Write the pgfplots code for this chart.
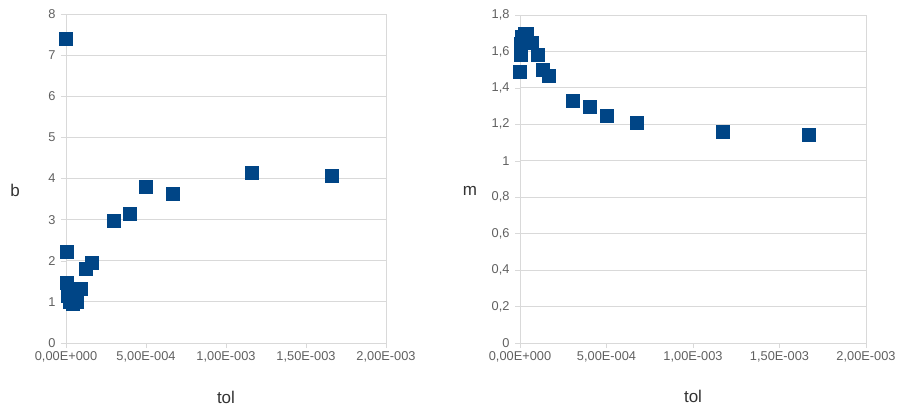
\documentclass[border=0pt]{standalone}
\usepackage{fontspec}
\setmainfont{Liberation Sans}
\usepackage{pgfplots}
\pgfplotsset{compat=1.18}
\definecolor{lo}{HTML}{004586}
\definecolor{gridc}{HTML}{D9D9D9}
\definecolor{tickc}{HTML}{606060}
\begin{document}
\begin{tikzpicture}
\path[use as bounding box] (0pt,0pt) rectangle (898pt,405pt);
\pgfplotsset{
  common/.style={
    scale only axis,
    anchor=south west,
    xmin=0, xmax=0.002,
    xtick={0,0.0005,0.001,0.0015,0.002},
    xticklabels={0{,}00E+000,5{,}00E-004,1{,}00E-003,1{,}50E-003,2{,}00E-003},
    scaled x ticks=false,
    axis line style={gridc},
    every tick/.style={gridc},
    tick align=outside,
    major tick length=5pt,
    xtick pos=bottom, ytick pos=left,
    ymajorgrids, grid style={gridc, line width=0.8pt},
    tick label style={font=\fontsize{12.8}{14}\selectfont, text=tickc},
    yticklabel style={xshift=-2pt},
    label style={font=\fontsize{17}{19}\selectfont, text=black!80},
    /pgf/number format/assume math mode=true,
    clip=false,
  },
}
\begin{axis}[common,
  at={(66pt,62pt)}, width=320pt, height=329pt,
  ymin=0, ymax=8, ytick={0,1,...,8},
  xlabel={tol}, ylabel={b},
  xlabel style={at={(axis description cs:0.5,-0.164)}, anchor=center},
  ylabel style={at={(axis description cs:-0.159,0.465)}, anchor=center, rotate=-90},
]
\addplot[only marks, mark=square*, mark size=6.5pt, mark options={fill=lo, draw=lo}] coordinates {
(0.000001,7.40) (0.000002,2.21) (0.000004,1.47) (0.00001,1.15)
(0.000025,1.00) (0.00004,0.96) (0.000068,1.00) (0.000092,1.31)
(0.000125,1.80) (0.00016,1.96) (0.000295,2.97) (0.000395,3.14)
(0.0005,3.80) (0.000665,3.64) (0.00116,4.14) (0.00166,4.06)
};
\end{axis}
\begin{axis}[common,
  at={(520pt,62pt)}, width=346pt, height=328pt,
  ymin=0, ymax=1.8, ytick={0,0.2,...,1.8},
  yticklabel style={/pgf/number format/.cd, use comma, fixed, precision=1},
  xlabel={tol}, ylabel={m},
  xlabel style={at={(axis description cs:0.5,-0.164)}, anchor=center},
  ylabel style={at={(axis description cs:-0.145,0.465)}, anchor=center, rotate=-90},
]
\addplot[only marks, mark=square*, mark size=6.5pt, mark options={fill=lo, draw=lo}] coordinates {
(0.000001,1.49) (0.000002,1.58) (0.000004,1.64) (0.00001,1.68)
(0.000025,1.70) (0.00004,1.70) (0.000068,1.65) (0.000104,1.58)
(0.00013,1.50) (0.000168,1.465) (0.000306,1.33) (0.000405,1.295)
(0.000503,1.245) (0.000676,1.21) (0.00117,1.16) (0.00167,1.145)
};
\end{axis}
\end{tikzpicture}
\end{document}
